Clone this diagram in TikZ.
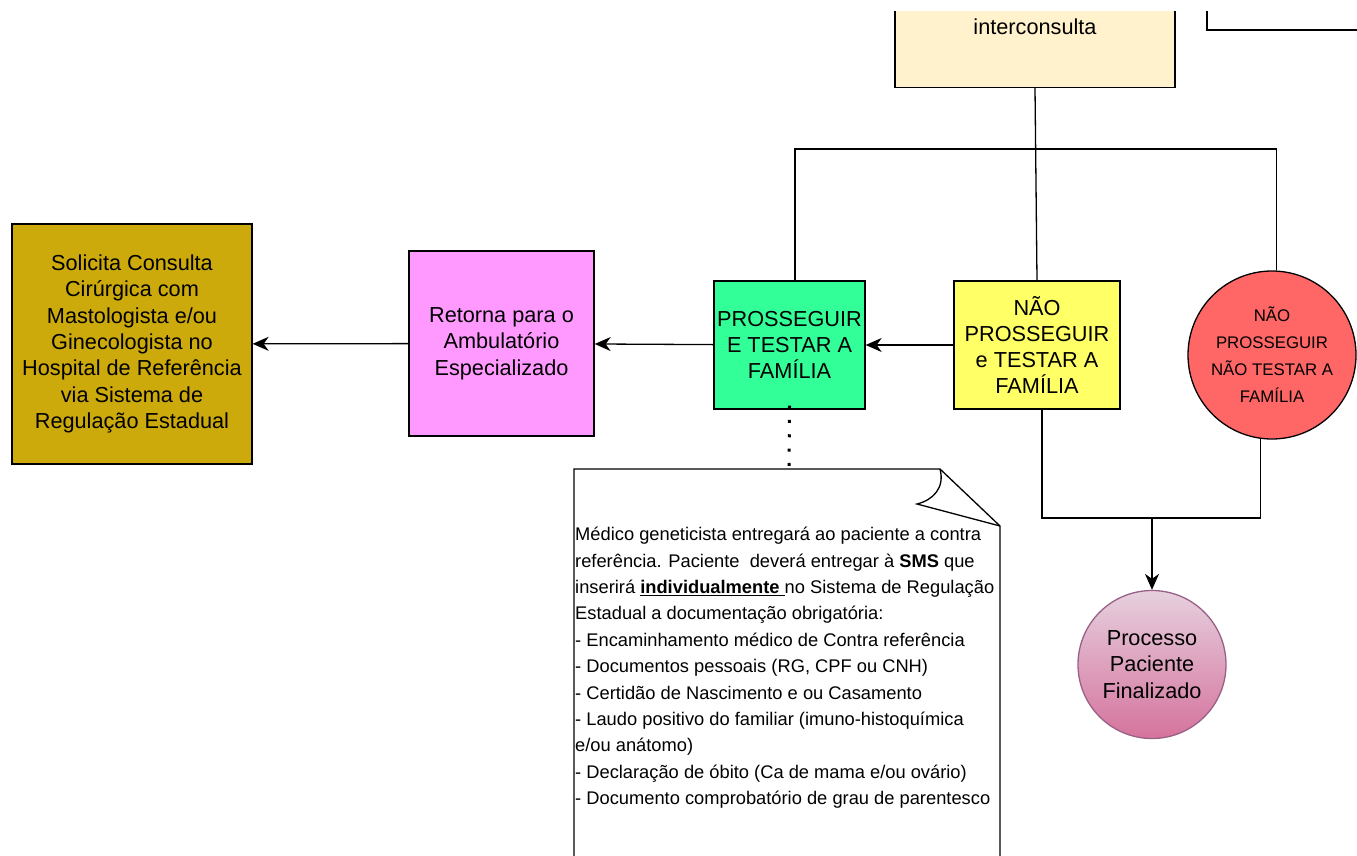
\documentclass[tikz,border=0pt]{standalone}
\usepackage{fontspec}
\setmainfont{Liberation Sans}
\usetikzlibrary{arrows.meta,shapes.geometric}
\definecolor{cOlive}{HTML}{CCAA0C}
\definecolor{cPink}{HTML}{FF99FF}
\definecolor{cGreen}{HTML}{33FF99}
\definecolor{cYellow}{HTML}{FFFF66}
\definecolor{cRed}{HTML}{FF6666}
\definecolor{cCream}{HTML}{FFF2CC}
\definecolor{cFinTop}{HTML}{E6D0DE}
\definecolor{cFinBot}{HTML}{D5739D}
\definecolor{cFinLine}{HTML}{996185}
\begin{document}
\begin{tikzpicture}[x=1pt,y=-1pt,
  box/.style={draw=black, line width=1.3pt, rectangle, inner sep=0pt, align=center,
    font=\fontsize{21.7}{26.3}\selectfont},
  roundbox/.style={draw=black, line width=1.3pt, circle, inner sep=0pt, align=center},
  conn/.style={line width=1.3pt, draw=black},
  arr/.style={conn, -{Stealth[length=16pt,width=14pt,inset=5pt]}},
  dots/.style={line width=3pt, dash pattern=on 3pt off 11.3pt},
]
\useasboundingbox (0,0) rectangle (1357,856);
\clip (0,12) rectangle (1357,856);

% top (cut-off) box
\node[box, fill=cCream, minimum width=280, minimum height=150, anchor=south] (top) at (1035,88) {};
\node[font=\fontsize{21.7}{26.3}\selectfont, inner sep=0pt] (toptext) at (1035,27) {interconsulta};

% main boxes
\node[box, fill=cOlive, minimum width=240, minimum height=240] (olive) at (132,344)
  {Solicita Consulta\\Cirúrgica com\\Mastologista e/ou\\Ginecologista no\\Hospital de Referência\\via Sistema de\\Regulação Estadual};
\node[box, fill=cPink, minimum width=185, minimum height=185] (pink) at (501.5,343.5)
  {Retorna para o\\Ambulatório\\Especializado};
\node[box, fill=cGreen, minimum width=151, minimum height=128] (green) at (789.5,345)
  {PROSSEGUIR\\E TESTAR A\\FAMÍLIA};
\node[box, fill=cYellow, minimum width=166, minimum height=128] (yellow) at (1037,345)
  {NÃO\\PROSSEGUIR\\e TESTAR A\\FAMÍLIA};
\node[roundbox, fill=cRed, minimum size=168, font=\fontsize{16.8}{27}\selectfont] (red) at (1272,355)
  {NÃO\\PROSSEGUIR\\NÃO TESTAR A\\FAMÍLIA};
\node[roundbox, draw=cFinLine, top color=cFinTop, bottom color=cFinBot, minimum size=148,
  font=\fontsize{21.7}{26.5}\selectfont] (final) at (1152,664.5)
  {Processo\\Paciente\\Finalizado};

% note
\draw[line width=1.3pt, fill=white] (574,880) -- (574,469) -- (940,469) -- (1000,526) -- (1000,880);
\draw[line width=1.3pt] (940,469) .. controls (945,488) and (933,500) .. (917,504) -- (1000,526);
\node[anchor=north west, inner sep=0pt, align=left, font=\fontsize{18.3}{26.4}\selectfont] (notetext) at (575,527)
  {Médico geneticista entregará ao paciente a contra\\
   referência. Paciente\ \ deverá entregar à \textbf{SMS} que\\
   inserirá \textbf{\underline{individualmente\ }}no Sistema de Regulação\\
   Estadual a documentação obrigatória:\\
   - Encaminhamento médico de Contra referência\\
   - Documentos pessoais (RG, CPF ou CNH)\\
   - Certidão de Nascimento e ou Casamento\\
   - Laudo positivo do familiar (imuno-histoquímica\\
   e/ou anátomo)\\
   - Declaração de óbito (Ca de mama e/ou ovário)\\
   - Documento comprobatório de grau de parentesco};
\coordinate (notetop) at (789,469);

% connectors
\draw[arr] (yellow) -- (green);
\draw[arr] (green) -- (pink);
\draw[arr] (pink) -- (olive);
\draw[dots] ([yshift=4pt]green.south) -- (notetop);

\coordinate (bar) at (1035,149);
\draw[conn] (top.south) -- (yellow.north);
\draw[conn] ([xshift=5.5pt]green.north) |- (bar) -| (red.87);

\coordinate (bus) at (1152,518);
\draw[conn] ([xshift=5pt]yellow.south) |- (bus) -| (red.262.5);
\draw[arr] (bus) -- (final.north);

\coordinate (offA) at (1207,0);
\coordinate (offB) at (1360,30);
\draw[conn] (offA) |- (offB);
\end{tikzpicture}
\end{document}
